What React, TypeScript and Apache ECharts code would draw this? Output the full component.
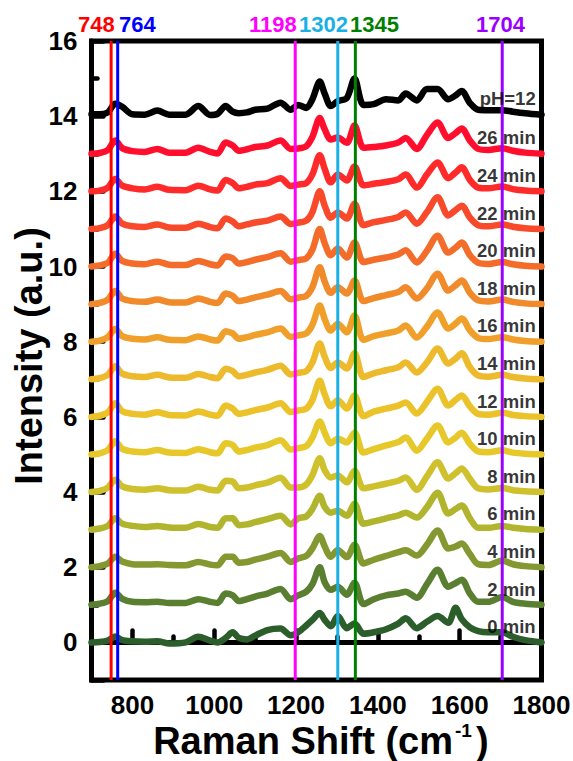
import React, { useEffect, useRef } from 'react';
import * as echarts from 'echarts';

// Raman shift sample positions (cm-1)
const shifts = [700, 720, 740, 758, 775, 800, 830, 861, 890, 930, 961, 990, 1008, 1028, 1045, 1060, 1080, 1100, 1130, 1162, 1187, 1205, 1225, 1240, 1258, 1270, 1285, 1302, 1324, 1343, 1365, 1390, 1420, 1450, 1468, 1495, 1520, 1546, 1572, 1590, 1605, 1625, 1645, 1670, 1704, 1730, 1760, 1800];

const spectrumNames = ['pH=12', '26 min', '24 min', '22 min', '20 min', '18 min', '16 min', '14 min', '12 min', '10 min', '8 min', '6 min', '4 min', '2 min', '0 min'];
const offsets = [14, 13, 12, 11, 10, 9, 8, 7, 6, 5, 4, 3, 2, 1, 0];
const spectrumColors = ['#000000', '#ff0f2d', '#ff2a2a', '#f84a2a', '#f36c2a', '#f08a2a', '#f0a02a', '#eeba2d', '#ecc22a', '#e6c82a', '#cfc02e', '#b1b52d', '#839830', '#5a7f30', '#2b5e2b'];

const pH12 = [0.05, 0.05, 0.1, 0.33, 0.25, 0.05, 0.04, 0.15, 0.04, 0.04, 0.27, 0.03, 0.06, 0.27, 0.12, 0.08, 0.1, 0.17, 0.2, 0.36, 0.17, 0.3, 0.22, 0.45, 0.92, 0.6, 0.27, 0.4, 0.48, 1.0, 0.3, 0.32, 0.45, 0.42, 0.6, 0.42, 0.72, 0.72, 0.45, 0.55, 0.67, 0.35, 0.17, 0.16, 0.16, 0.12, 0.08, 0.04];
const min26 = [0, 0.02, 0.1, 0.35, 0.15, 0.07, 0.05, 0.13, 0.03, 0.03, 0.16, 0.05, 0.01, 0.3, 0.22, 0.08, 0.12, 0.18, 0.22, 0.35, 0.13, 0.14, 0.2, 0.45, 0.95, 0.65, 0.38, 0.43, 0.29, 0.75, 0.16, 0.18, 0.22, 0.3, 0.42, 0.13, 0.5, 0.83, 0.42, 0.55, 0.67, 0.35, 0.13, 0.1, 0.15, 0.08, 0.03, 0];
const min24 = [0, 0.02, 0.1, 0.33, 0.15, 0.08, 0.05, 0.12, 0.04, 0.03, 0.15, 0.05, 0.02, 0.3, 0.22, 0.08, 0.12, 0.18, 0.22, 0.35, 0.14, 0.18, 0.22, 0.45, 0.96, 0.6, 0.24, 0.45, 0.29, 0.66, 0.16, 0.2, 0.25, 0.32, 0.45, 0.1, 0.45, 0.77, 0.35, 0.5, 0.64, 0.3, 0.1, 0.08, 0.13, 0.06, 0.02, 0];
const min22 = [0, 0.02, 0.1, 0.33, 0.14, 0.07, 0.05, 0.12, 0.04, 0.03, 0.14, 0.05, 0.02, 0.28, 0.2, 0.07, 0.12, 0.17, 0.22, 0.33, 0.13, 0.17, 0.22, 0.45, 1.0, 0.62, 0.3, 0.44, 0.28, 0.67, 0.1, 0.18, 0.24, 0.32, 0.44, 0.14, 0.45, 0.84, 0.36, 0.5, 0.62, 0.3, 0.1, 0.07, 0.12, 0.06, 0.02, 0];
const min20 = [0, 0.03, 0.1, 0.34, 0.15, 0.08, 0.06, 0.13, 0.05, 0.04, 0.15, 0.06, 0.03, 0.27, 0.22, 0.08, 0.12, 0.18, 0.25, 0.35, 0.13, 0.17, 0.22, 0.45, 1.0, 0.62, 0.3, 0.48, 0.24, 0.64, 0.12, 0.18, 0.24, 0.32, 0.43, 0.11, 0.42, 0.82, 0.37, 0.5, 0.64, 0.3, 0.1, 0.07, 0.12, 0.06, 0.02, 0];
const min18 = [0, 0.03, 0.12, 0.35, 0.15, 0.08, 0.06, 0.12, 0.05, 0.04, 0.15, 0.06, 0.03, 0.28, 0.22, 0.08, 0.12, 0.18, 0.25, 0.35, 0.13, 0.17, 0.22, 0.45, 0.98, 0.6, 0.3, 0.45, 0.28, 0.63, 0.08, 0.16, 0.24, 0.32, 0.45, 0.15, 0.42, 0.81, 0.36, 0.5, 0.63, 0.3, 0.1, 0.07, 0.12, 0.06, 0.02, 0];
const min16 = [0, 0.03, 0.12, 0.34, 0.15, 0.08, 0.06, 0.12, 0.05, 0.04, 0.14, 0.06, 0.03, 0.28, 0.22, 0.08, 0.12, 0.18, 0.25, 0.35, 0.13, 0.17, 0.22, 0.45, 0.96, 0.6, 0.3, 0.48, 0.25, 0.7, 0.05, 0.15, 0.22, 0.3, 0.43, 0.11, 0.4, 0.78, 0.35, 0.48, 0.62, 0.3, 0.1, 0.07, 0.12, 0.06, 0.02, 0];
const min14 = [0, 0.03, 0.12, 0.35, 0.15, 0.08, 0.06, 0.12, 0.05, 0.04, 0.14, 0.06, 0.03, 0.28, 0.22, 0.08, 0.12, 0.18, 0.25, 0.36, 0.13, 0.17, 0.22, 0.45, 0.95, 0.6, 0.3, 0.45, 0.29, 0.69, 0.06, 0.16, 0.24, 0.32, 0.45, 0.18, 0.45, 0.82, 0.42, 0.55, 0.69, 0.32, 0.1, 0.07, 0.12, 0.06, 0.02, 0];
const min12 = [0, 0.03, 0.12, 0.36, 0.15, 0.08, 0.06, 0.12, 0.05, 0.04, 0.14, 0.06, 0.03, 0.3, 0.22, 0.08, 0.12, 0.18, 0.25, 0.36, 0.13, 0.17, 0.22, 0.45, 0.96, 0.6, 0.28, 0.44, 0.22, 0.57, 0.02, 0.14, 0.22, 0.3, 0.38, 0.09, 0.4, 0.75, 0.3, 0.45, 0.57, 0.28, 0.08, 0.06, 0.11, 0.05, 0.02, 0];
const min10 = [0, 0.03, 0.12, 0.35, 0.15, 0.08, 0.06, 0.12, 0.05, 0.04, 0.14, 0.06, 0.03, 0.3, 0.25, 0.08, 0.12, 0.18, 0.25, 0.38, 0.13, 0.17, 0.22, 0.45, 0.88, 0.58, 0.3, 0.42, 0.32, 0.58, 0.05, 0.14, 0.24, 0.33, 0.45, 0.1, 0.42, 0.77, 0.32, 0.45, 0.58, 0.28, 0.08, 0.06, 0.11, 0.05, 0.02, 0];
const min8 = [0, 0.03, 0.12, 0.33, 0.15, 0.08, 0.06, 0.1, 0.05, 0.04, 0.14, 0.06, 0.04, 0.3, 0.28, 0.1, 0.12, 0.18, 0.25, 0.38, 0.12, 0.12, 0.2, 0.45, 0.9, 0.58, 0.39, 0.44, 0.26, 0.57, 0.1, 0.15, 0.22, 0.3, 0.39, 0.06, 0.42, 0.79, 0.36, 0.5, 0.63, 0.35, 0.1, 0.07, 0.11, 0.05, 0.02, 0];
const min6 = [0, 0.03, 0.1, 0.3, 0.16, 0.1, 0.07, 0.1, 0.06, 0.05, 0.15, 0.07, 0.05, 0.3, 0.3, 0.12, 0.14, 0.2, 0.28, 0.37, 0.14, 0.3, 0.35, 0.55, 0.9, 0.6, 0.45, 0.5, 0.37, 0.69, 0.16, 0.22, 0.3, 0.38, 0.45, 0.32, 0.6, 0.98, 0.43, 0.55, 0.64, 0.3, 0.05, 0.05, 0.1, 0.05, 0.02, 0];
const min4 = [0, 0.03, 0.1, 0.28, 0.15, 0.08, 0.07, 0.08, 0.06, 0.05, 0.14, 0.07, 0.05, 0.28, 0.28, 0.12, 0.14, 0.2, 0.28, 0.38, 0.14, 0.23, 0.3, 0.5, 0.83, 0.55, 0.28, 0.46, 0.27, 0.6, 0.1, 0.2, 0.3, 0.4, 0.45, 0.31, 0.6, 0.98, 0.5, 0.55, 0.63, 0.35, 0.08, 0.06, 0.18, 0.08, 0.03, 0];
const min2 = [0, 0.03, 0.1, 0.32, 0.16, 0.08, 0.07, 0.08, 0.05, 0.05, 0.15, 0.08, 0.05, 0.3, 0.25, 0.1, 0.15, 0.22, 0.3, 0.42, 0.15, 0.25, 0.35, 0.55, 1.0, 0.6, 0.4, 0.48, 0.27, 0.59, 0.02, 0.15, 0.25, 0.3, 0.35, 0.19, 0.55, 0.93, 0.48, 0.58, 0.67, 0.3, 0.08, 0.08, 0.21, 0.08, 0.03, 0];
const min0 = [0, 0.01, 0.05, 0.16, 0.06, 0.03, 0.02, 0.03, -0.03, 0.0, 0.15, 0.05, 0.0, 0.12, 0.27, 0.12, 0.08, 0.18, 0.33, 0.37, 0.19, 0.27, 0.45, 0.6, 0.78, 0.6, 0.43, 0.7, 0.38, 0.5, 0.23, 0.27, 0.35, 0.5, 0.64, 0.38, 0.55, 0.7, 0.52, 0.92, 0.62, 0.4, 0.3, 0.27, 0.27, 0.15, 0.06, 0];

const spectra = [pH12, min26, min24, min22, min20, min18, min16, min14, min12, min10, min8, min6, min4, min2, min0];

const markerShifts = [748, 764, 1198, 1302, 1345, 1704];
const markerColors = ['#ff0000', '#0000ff', '#ff00ff', '#1ab0e6', '#008000', '#9900ff'];
const markerLabelLeft = [78, 119, 249, 299, 350, 476];

const xTitle = 'Raman Shift (cm';
const xTitleSup = '-1';
const xTitleEnd = ')';
const yTitle = 'Intensity (a.u.)';

const labelShift = 1787;
const yMin = -1;
const yMax = 16;

const FONT = '"Liberation Sans", Arial, Helvetica, sans-serif';

export default function App() {
  const ref = useRef<HTMLDivElement>(null);
  useEffect(() => {
    if (!ref.current) return;
    const chart = echarts.init(ref.current, undefined, { renderer: 'svg' });

    const spectrumSeries = spectra.map((vals, i) => ({
      type: 'line',
      name: spectrumNames[i],
      data: shifts.map((x, j) => [x, vals[j] + offsets[i]]),
      symbol: 'none',
      smooth: 0.3,
      lineStyle: { color: spectrumColors[i], width: 6.5, join: 'round', cap: 'round' },
      z: 2,
    }));

    const markerSeries = markerShifts.map((x, i) => ({
      type: 'line',
      data: [[x, yMin], [x, yMax]],
      symbol: 'none',
      lineStyle: { color: markerColors[i], width: 3 },
      z: 5,
      silent: true,
    }));

    const labelSeries = {
      type: 'scatter',
      symbolSize: 1,
      itemStyle: { color: 'rgba(0,0,0,0)' },
      z: 10,
      data: spectrumNames.map((n, i) => ({ name: n, value: [labelShift, offsets[i] + (i === 0 ? 0.47 : 0.42)] })),
      label: {
        show: true,
        position: 'left',
        distance: 0,
        formatter: '{b}',
        color: '#000',
        fontSize: 18.5,
        fontWeight: 'bold',
        fontFamily: FONT,
      },
      labelLayout: { hideOverlap: false },
    };

    const titleStyle = { fill: '#000', fontWeight: 'bold', fontFamily: FONT };

    const option = {
      animation: false,
      grid: {
        left: 91.5, right: 31.5, top: 41, bottom: 81,
        outerBoundsMode: 'none',
        containLabel: false,
        show: true, borderColor: '#000', borderWidth: 5, backgroundColor: 'transparent',
      },
      xAxis: {
        type: 'value', min: 700, max: 1800, minInterval: 200, maxInterval: 200, splitNumber: 5,
        axisLine: { lineStyle: { color: '#000', width: 5 } },
        axisTick: { inside: true, length: 12, lineStyle: { color: '#000', width: 4.5, cap: 'round' } },
        minorTick: { show: true, splitNumber: 2, length: 6, lineStyle: { color: '#000', width: 4.5, cap: 'round' } },
        splitLine: { show: false },
        axisLabel: {
          color: '#000', fontSize: 26, fontWeight: 'bold', fontFamily: FONT, margin: 12,
          formatter: (v: number) => (v === 700 ? '' : String(v)),
        },
      },
      yAxis: {
        type: 'value', min: yMin, max: yMax, minInterval: 2, maxInterval: 2, splitNumber: 8,
        axisLine: { lineStyle: { color: '#000', width: 5 } },
        axisTick: { inside: true, length: 12, lineStyle: { color: '#000', width: 4.5, cap: 'round' } },
        minorTick: { show: true, splitNumber: 2, length: 6, lineStyle: { color: '#000', width: 4.5, cap: 'round' } },
        splitLine: { show: false },
        axisLabel: {
          color: '#000', fontSize: 26, fontWeight: 'bold', fontFamily: FONT, margin: 14,
          formatter: (v: number) => (v === -1 ? '' : String(v)),
        },
      },
      graphic: [
        ...markerShifts.map((x, i) => ({
          type: 'text',
          x: markerLabelLeft[i],
          y: 24,
          style: {
            text: String(x),
            fill: markerColors[i],
            fontSize: 22,
            fontWeight: 'bold',
            fontFamily: FONT,
            align: 'left',
            verticalAlign: 'middle',
          },
        })),
        { type: 'text', x: 453, y: 741, style: { ...titleStyle, text: xTitle, fontSize: 38, align: 'right', verticalAlign: 'middle' } },
        { type: 'text', x: 455, y: 730, style: { ...titleStyle, text: xTitleSup, fontSize: 19, align: 'left', verticalAlign: 'middle' } },
        { type: 'text', x: 476, y: 741, style: { ...titleStyle, text: xTitleEnd, fontSize: 38, align: 'left', verticalAlign: 'middle' } },
        { type: 'text', x: 29, y: 356, rotation: Math.PI / 2, style: { ...titleStyle, text: yTitle, fontSize: 38, align: 'center', verticalAlign: 'middle' } },
      ],
      series: [...spectrumSeries, ...markerSeries, labelSeries],
    };

    chart.setOption(option as any);
    return () => chart.dispose();
  }, []);

  return (
    <div
      ref={ref}
      style={{ position: 'fixed', left: 0, top: 0, width: 573, height: 761, background: '#fff' }}
    />
  );
}
